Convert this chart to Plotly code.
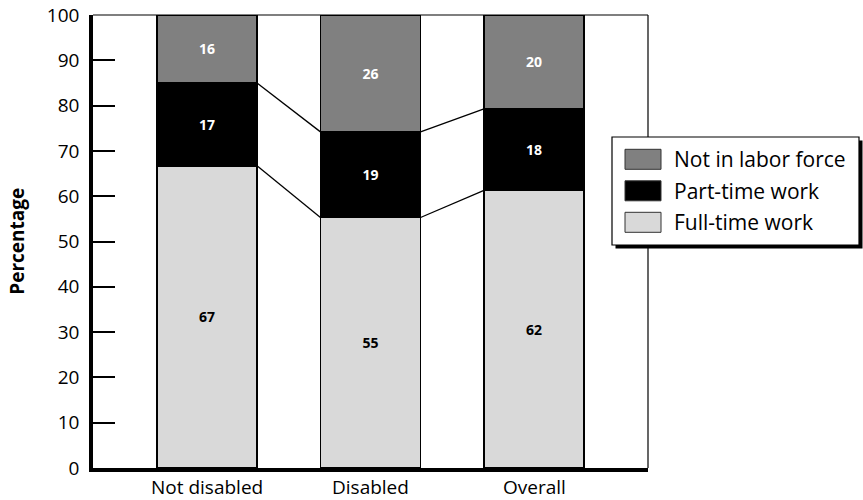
import plotly.graph_objects as go

# ---------------- data ----------------
categories = ["Not disabled", "Disabled", "Overall"]
full_time = [66.7, 55.3, 61.3]
part_time = [18.3, 18.9, 18.0]
not_in_lf = [15.0, 25.8, 20.7]
full_time_labels = ["67", "55", "62"]
part_time_labels = ["17", "19", "18"]
not_in_lf_labels = ["16", "26", "20"]
series_names = ["Full-time work", "Part-time work", "Not in labor force"]
y_ticks = [0, 10, 20, 30, 40, 50, 60, 70, 80, 90, 100]

# ---------------- style ----------------
FONT = "Open Sans"
C_FT = "#d9d9d9"
C_PT = "#000000"
C_NL = "#808080"
BAR_W = 0.612

W_TOT, H_TOT = 863, 500
ML, MR, MT, MB = 93, 215, 15, 32
PW = W_TOT - ML - MR
PH = H_TOT - MT - MB


def px_x(p):
    return (p - ML) / PW


def px_y(p):
    return (H_TOT - MB - p) / PH


xs = list(range(len(categories)))

fig = go.Figure()

series = [
    (full_time, full_time_labels, series_names[0], C_FT, "black"),
    (part_time, part_time_labels, series_names[1], C_PT, "white"),
    (not_in_lf, not_in_lf_labels, series_names[2], C_NL, "white"),
]
for vals, labs, name, col, tcol in series:
    fig.add_trace(go.Bar(
        x=xs, y=vals, name=name, width=BAR_W,
        marker=dict(color=col, line=dict(color="black", width=1.5)),
        text=labs, textposition="inside", insidetextanchor="middle",
        textangle=0, constraintext="none",
        textfont=dict(family=FONT, size=14, color=tcol, weight="bold"),
        hoverinfo="skip", showlegend=False,
    ))

# connecting lines between adjacent bars at segment boundaries
ft_top = full_time
pt_top = [a + b for a, b in zip(full_time, part_time)]
for level in (ft_top, pt_top):
    for i in range(len(xs) - 1):
        fig.add_trace(go.Scatter(
            x=[xs[i] + BAR_W / 2, xs[i + 1] - BAR_W / 2],
            y=[level[i], level[i + 1]],
            mode="lines", line=dict(color="black", width=1.3),
            hoverinfo="skip", showlegend=False,
        ))

fig.update_layout(
    width=W_TOT, height=H_TOT,
    margin=dict(l=ML, r=MR, t=MT, b=MB, autoexpand=False),
    paper_bgcolor="white", plot_bgcolor="white",
    barmode="stack", showlegend=False,
    font=dict(family=FONT, color="black"),
    xaxis=dict(
        range=[-0.697, 2.697], tickmode="array", tickvals=xs,
        showticklabels=False,
        showgrid=False, zeroline=False, showline=True, linecolor="black", linewidth=4,
        ticks="", automargin=False,
    ),
    yaxis=dict(
        range=[0, 100], tickmode="array", tickvals=y_ticks,
        showgrid=False, zeroline=False, showline=True, linecolor="black", linewidth=3.5,
        ticks="inside", ticklen=22, tickwidth=1.5, tickcolor="black",
        ticklabelstandoff=6, automargin=False,
        tickfont=dict(family=FONT, size=19, color="black"),
    ),
)

shapes = []
# thin top and right frame
shapes.append(dict(type="line", xref="paper", yref="paper", x0=0, x1=1, y0=1, y1=1,
                   line=dict(color="black", width=1.2)))
shapes.append(dict(type="line", xref="paper", yref="paper", x0=1, x1=1, y0=0, y1=1,
                   line=dict(color="black", width=1.2)))

# custom legend: shadow, box, swatches
LX0, LX1, LY0, LY1 = 612, 859, 137, 245
SH = 3.5
shapes.append(dict(type="rect", xref="paper", yref="paper",
                   x0=px_x(LX0 + SH), x1=px_x(LX1 + SH), y0=px_y(LY1 + SH), y1=px_y(LY0 + SH),
                   fillcolor="black", line=dict(width=0)))
shapes.append(dict(type="rect", xref="paper", yref="paper",
                   x0=px_x(LX0), x1=px_x(LX1), y0=px_y(LY1), y1=px_y(LY0),
                   fillcolor="white", line=dict(color="black", width=1.2)))

legend_rows = [(series_names[2], C_NL, 159.3), (series_names[1], C_PT, 190.8),
               (series_names[0], C_FT, 222.3)]
annotations = []
for name, col, cy in legend_rows:
    shapes.append(dict(type="rect", xref="paper", yref="paper",
                       x0=px_x(625), x1=px_x(661), y0=px_y(cy + 10), y1=px_y(cy - 10),
                       fillcolor=col, line=dict(color="#333333", width=1)))
    annotations.append(dict(xref="paper", yref="paper", x=px_x(672), y=px_y(cy),
                            xanchor="left", yanchor="middle", showarrow=False, text=name,
                            font=dict(family=FONT, size=21, color="black")))

# category labels under the axis
for xv, cat in zip(xs, categories):
    annotations.append(dict(xref="x", yref="paper", x=xv, y=px_y(486.5),
                            xanchor="center", yanchor="middle", showarrow=False, text=cat,
                            borderpad=0,
                            font=dict(family=FONT, size=19, color="black")))

# y-axis title
annotations.append(dict(xref="paper", yref="paper", x=px_x(16.7), y=px_y(241),
                        xanchor="center", yanchor="middle", showarrow=False,
                        text="<b>Percentage</b>", textangle=-90,
                        font=dict(family=FONT, size=19, color="black")))

fig.update_layout(shapes=shapes, annotations=annotations)

fig.write_html("out.html")
